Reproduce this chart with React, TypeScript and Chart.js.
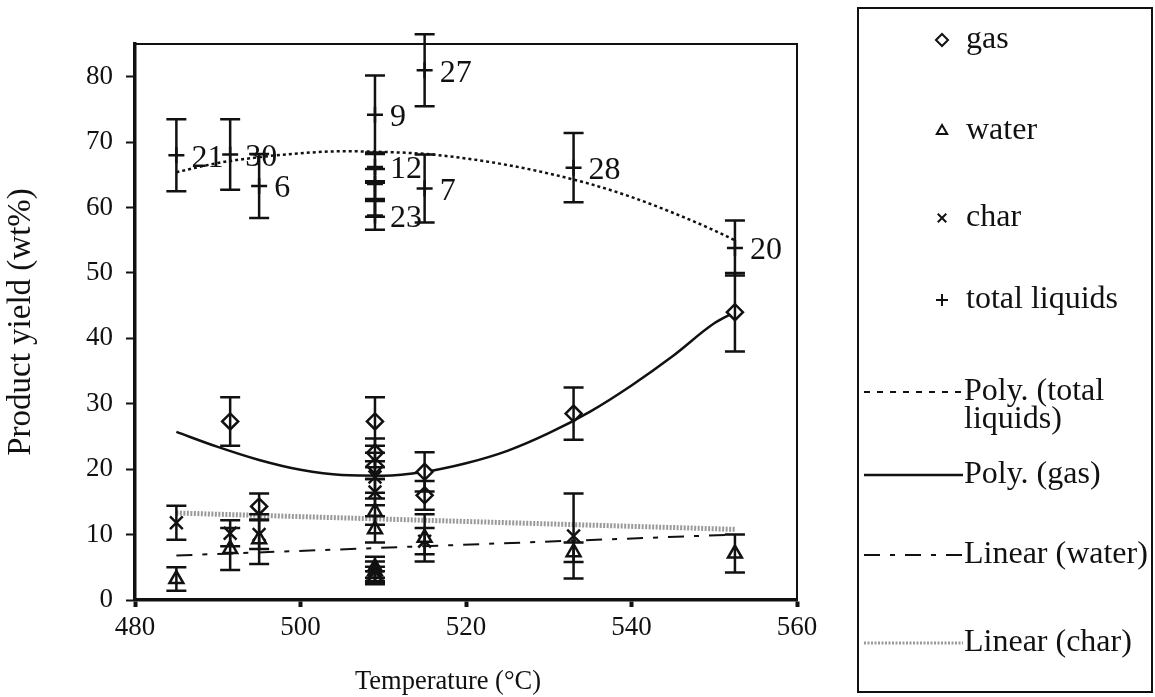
import React, { useEffect, useRef } from 'react';
import { Chart, registerables } from 'chart.js';
import { drawPoint } from 'chart.js/helpers';
Chart.register(...registerables);

const FONT = '"Liberation Serif", "Times New Roman", serif';

// axis ticks and titles
const xTicks = [480, 500, 520, 540, 560];
const yTicks = [0, 10, 20, 30, 40, 50, 60, 70, 80];
const xTitle = 'Temperature (°C)';
const yTitle = 'Product yield (wt%)';

// Gas
const gasT = [491.5, 495, 509, 509, 509, 515, 515, 533, 552.5];
const gasY = [27.3, 14.3, 27.3, 22.5, 20.5, 19.6, 16.0, 28.5, 44.0];
const gasErr = [3.7, 2.0, 3.7, 2.2, 2.0, 3.0, 2.2, 4.0, 6.0];

// Water
const waterT = [485, 491.5, 495, 509, 509, 509, 509, 509, 509, 515, 533, 552.5];
const waterY = [3.2, 7.8, 9.3, 13.5, 10.8, 5.0, 4.4, 3.9, 3.4, 9.5, 7.3, 7.1];
const waterErr = [1.8, 3.2, 3.8, 2.0, 2.0, 1.6, 1.5, 1.2, 1.0, 3.6, 1.5, 2.9];

// Char
const charT = [485, 491.5, 495, 509, 509, 515, 533];
const charY = [11.8, 10.2, 10.0, 18.8, 16.5, 9.0, 9.8];
const charErr = [2.6, 2.0, 2.2, 2.4, 2.0, 2.0, 6.5];

// Total liquids
const liqT = [485, 491.5, 495, 509, 509, 509, 509, 509, 515, 515, 533, 552.5];
const liqY = [68.0, 68.1, 63.3, 74.2, 66.2, 63.6, 61.2, 58.8, 81.0, 62.9, 66.1, 53.8];
const liqErr = [5.5, 5.4, 4.9, 6.0, 2.2, 2.3, 2.6, 2.2, 5.5, 5.2, 5.3, 4.2];
const liqLabels = ['21', '30', '6', '9', '12', '', '', '23', '27', '7', '28', '20'];

// Trend lines
const trendT = [485, 490, 495, 500, 505, 510, 515, 520, 525, 530, 535, 540, 545, 550, 552.5];
const polyLiqY = [65.4, 66.8, 67.7, 68.3, 68.6, 68.5, 68.2, 67.5, 66.5, 65.2, 63.6, 61.6, 59.2, 56.5, 55.0];
const polyGasY = [25.7, 23.4, 21.4, 19.9, 19.1, 19.0, 19.6, 20.9, 22.8, 25.5, 28.8, 32.8, 37.3, 42.3, 44.0];
const linT = [485, 552.5];
const linWaterY = [6.8, 10.0];
const linCharY = [13.3, 10.8];

const legendLabels = ['gas', 'water', 'char', 'total liquids', 'Poly. (total\nliquids)', 'Poly. (gas)', 'Linear (water)', 'Linear (char)'];

const pts = (xs: number[], ys: number[]) => xs.map((x, i) => ({ x, y: ys[i] }));

const errorBarPlugin = {
  id: 'errorBars',
  afterDatasetsDraw(chart: any) {
    const ctx = chart.ctx;
    const yScale = chart.scales.y;
    ctx.save();
    ctx.strokeStyle = '#111';
    ctx.lineWidth = 2.5;
    chart.data.datasets.forEach((ds: any, di: number) => {
      if (!ds.errors) return;
      const meta = chart.getDatasetMeta(di);
      meta.data.forEach((el: any, i: number) => {
        const v = ds.data[i].y;
        const e = ds.errors[i];
        const top = yScale.getPixelForValue(v + e);
        const bot = yScale.getPixelForValue(Math.max(0, v - e));
        ctx.beginPath();
        ctx.moveTo(el.x, top);
        ctx.lineTo(el.x, bot);
        ctx.moveTo(el.x - 10, top);
        ctx.lineTo(el.x + 10, top);
        ctx.moveTo(el.x - 10, bot);
        ctx.lineTo(el.x + 10, bot);
        ctx.stroke();
      });
    });
    // run labels for total liquids
    const liqIdx = chart.data.datasets.findIndex((d: any) => d.runLabels);
    if (liqIdx >= 0) {
      const ds = chart.data.datasets[liqIdx];
      const meta = chart.getDatasetMeta(liqIdx);
      ctx.fillStyle = '#111';
      ctx.font = `32px ${FONT}`;
      ctx.textBaseline = 'middle';
      ctx.textAlign = 'left';
      meta.data.forEach((el: any, i: number) => {
        const t = ds.runLabels[i];
        if (t) ctx.fillText(t, el.x + 15, el.y + 3);
      });
    }
    ctx.restore();
  },
};

const framePlugin = {
  id: 'frame',
  afterDraw(chart: any) {
    const { ctx, chartArea } = chart;
    ctx.save();
    ctx.strokeStyle = '#111';
    ctx.lineWidth = 2;
    ctx.beginPath();
    ctx.moveTo(chartArea.left, chartArea.top);
    ctx.lineTo(chartArea.right, chartArea.top);
    ctx.lineTo(chartArea.right, chartArea.bottom);
    ctx.stroke();
    // x-axis title (slightly left of centre, as in the original)
    ctx.fillStyle = '#111';
    ctx.font = `26.5px ${FONT}`;
    ctx.textAlign = 'center';
    ctx.textBaseline = 'middle';
    ctx.fillText(xTitle, (chartArea.left + chartArea.right) / 2 - 18, 682);
    ctx.restore();
  },
};

const legendPlugin = {
  id: 'customLegend',
  afterDraw(chart: any) {
    const ctx = chart.ctx;
    ctx.save();
    ctx.strokeStyle = '#111';
    ctx.lineWidth = 2;
    ctx.strokeRect(858, 8, 294, 684);
    const rows = [40, 131, 218, 300, 392, 475, 555, 643];
    const styles = ['rectRot', 'triangle', 'crossRot', 'cross'];
    ctx.font = `32px ${FONT}`;
    ctx.fillStyle = '#111';
    ctx.textBaseline = 'middle';
    legendLabels.forEach((lab, i) => {
      const y = rows[i];
      if (i < 4) {
        ctx.strokeStyle = '#111';
        ctx.fillStyle = '#fff';
        drawPoint(ctx, { pointStyle: styles[i], radius: 6, rotation: 0, borderWidth: 2.5 }, 942, y);
        ctx.fillStyle = '#111';
        ctx.fillText(lab, 966, y);
      } else {
        ctx.save();
        ctx.beginPath();
        if (i === 4) { ctx.setLineDash([6, 7]); ctx.lineWidth = 2; ctx.strokeStyle = '#111'; }
        if (i === 5) { ctx.setLineDash([]); ctx.lineWidth = 2.5; ctx.strokeStyle = '#111'; }
        if (i === 6) { ctx.setLineDash([16, 10, 5, 10]); ctx.lineWidth = 2; ctx.strokeStyle = '#111'; }
        if (i === 7) { ctx.setLineDash([2, 1.5]); ctx.lineWidth = 3; ctx.strokeStyle = '#999'; }
        ctx.moveTo(864, y);
        ctx.lineTo(963, y);
        ctx.stroke();
        ctx.restore();
        ctx.fillStyle = '#111';
        lab.split('\n').forEach((line, k) => ctx.fillText(line, 964, y + k * 28));
      }
    });
    ctx.restore();
  },
};

export default function App() {
  const ref = useRef<HTMLCanvasElement | null>(null);
  useEffect(() => {
    if (!ref.current) return;
    const markerBase = {
      showLine: false,
      pointRadius: 8,
      pointBorderWidth: 2.5,
      pointBorderColor: '#111',
      pointBackgroundColor: '#fff',
      borderColor: '#111',
      backgroundColor: '#fff',
    };
    const chart = new Chart(ref.current, {
      type: 'scatter',
      data: {
        datasets: [
          { ...markerBase, label: 'gas', data: pts(gasT, gasY), pointStyle: 'rectRot', errors: gasErr } as any,
          { ...markerBase, label: 'water', data: pts(waterT, waterY), pointStyle: 'triangle', pointRadius: 8, errors: waterErr } as any,
          { ...markerBase, label: 'char', data: pts(charT, charY), pointStyle: 'crossRot', pointRadius: 9, errors: charErr } as any,
          { ...markerBase, label: 'total liquids', data: pts(liqT, liqY), pointStyle: 'cross', errors: liqErr, runLabels: liqLabels } as any,
          { label: 'Poly. (total liquids)', data: pts(trendT, polyLiqY), showLine: true, pointRadius: 0, borderColor: '#111', borderWidth: 2.5, borderDash: [3, 3], cubicInterpolationMode: 'monotone' } as any,
          { label: 'Poly. (gas)', data: pts(trendT, polyGasY), showLine: true, pointRadius: 0, borderColor: '#111', borderWidth: 2.5, cubicInterpolationMode: 'monotone' } as any,
          { label: 'Linear (water)', data: pts(linT, linWaterY), showLine: true, pointRadius: 0, borderColor: '#111', borderWidth: 2, borderDash: [16, 10, 5, 10] } as any,
          { label: 'Linear (char)', data: pts(linT, linCharY), showLine: true, pointRadius: 0, borderColor: '#9a9a9a', borderWidth: 5, borderDash: [2, 1.5] } as any,
        ],
      },
      options: {
        responsive: false,
        animation: false,
        devicePixelRatio: 1,
        layout: { padding: { left: 0, top: 44, right: 358, bottom: 0 } },
        plugins: { legend: { display: false }, tooltip: { enabled: false } },
        scales: {
          x: {
            type: 'linear',
            min: 480,
            max: 560,
            afterFit: (s: any) => { s.height = 97; },
            afterBuildTicks: (s: any) => { s.ticks = xTicks.map((v) => ({ value: v })); },
            border: { display: true, color: '#111', width: 3.5 },
            grid: { display: true, drawOnChartArea: false, drawTicks: true, tickLength: 7, tickWidth: 4, color: '#111' },
            ticks: { color: '#111', font: { family: FONT, size: 27 }, padding: 5, maxRotation: 0 },
            title: { display: false },
          },
          y: {
            type: 'linear',
            min: 0,
            max: 85,
            afterFit: (s: any) => { s.width = 135; },
            afterBuildTicks: (s: any) => { s.ticks = yTicks.map((v) => ({ value: v })); },
            border: { display: true, color: '#111', width: 3.5 },
            grid: { display: true, drawOnChartArea: false, drawTicks: true, tickLength: 9, tickWidth: 2, color: '#111' },
            ticks: { color: '#111', font: { family: FONT, size: 27 }, padding: 13 },
            title: { display: true, text: yTitle, color: '#111', font: { family: FONT, size: 33 }, padding: { top: 2, bottom: 0 } },
          },
        },
      },
      plugins: [errorBarPlugin, framePlugin, legendPlugin],
    } as any);
    return () => chart.destroy();
  }, []);
  return (
    <div style={{ position: 'fixed', left: 0, top: 0, width: 1155, height: 697, background: '#fff' }}>
      <canvas ref={ref} width={1155} height={697} style={{ width: 1155, height: 697 }} />
    </div>
  );
}
